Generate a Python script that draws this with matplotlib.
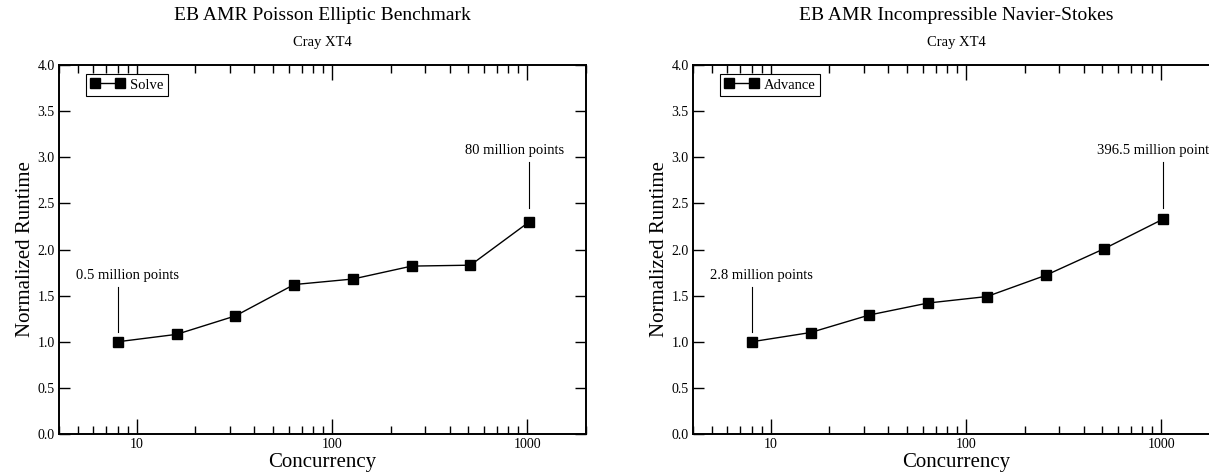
import numpy as np
import matplotlib
matplotlib.use("Agg")
import matplotlib.pyplot as plt
from matplotlib.ticker import FixedLocator, FixedFormatter, LogLocator, NullFormatter

plt.rcParams['font.family'] = ['Liberation Serif', 'DejaVu Serif']

# data
procs = [8, 16, 32, 64, 128, 256, 512, 1024]
solve = [1.00, 1.08, 1.28, 1.62, 1.68, 1.82, 1.83, 2.30]
advance = [1.00, 1.10, 1.29, 1.42, 1.49, 1.72, 2.01, 2.33]

titles = ["EB AMR Poisson Elliptic Benchmark", "EB AMR Incompressible Navier-Stokes"]
subtitle = "Cray XT4"
legend_names = ["Solve", "Advance"]
low_notes = ["0.5 million points", "2.8 million points"]
high_notes = ["80 million points", "396.5 million points"]
high_note_x = [860, 940]

W, H = 1209, 473
fig = plt.figure(figsize=(W / 100, H / 100), dpi=100)

ax_left_px = [59, 693]
series = [solve, advance]

for i in range(2):
    ax = fig.add_axes([ax_left_px[i] / W, 1 - 434 / H, 527 / W, 369 / H])
    ax.plot(procs, series[i], color='k', lw=1, marker='s', ms=6.5,
            label=legend_names[i])
    ax.set_xscale('log')
    ax.set_xlim(4, 2000)
    ax.set_ylim(0, 4)

    ax.xaxis.set_major_locator(FixedLocator([10, 100, 1000]))
    ax.xaxis.set_major_formatter(FixedFormatter(['10', '100', '1000']))
    ax.xaxis.set_minor_locator(LogLocator(base=10, subs=np.arange(2, 10)))
    ax.xaxis.set_minor_formatter(NullFormatter())
    ax.set_yticks(np.arange(0, 4.01, 0.5))
    ax.set_yticklabels([f"{v:.1f}" for v in np.arange(0, 4.01, 0.5)])

    ax.tick_params(which='both', direction='in', top=True, right=True,
                   labelsize=10, width=1, pad=3)
    ax.tick_params(axis='x', which='major', length=11)
    ax.tick_params(axis='x', which='minor', length=6)
    ax.tick_params(axis='y', which='major', length=8)
    for s in ax.spines.values():
        s.set_linewidth(1.4)

    ax.set_xlabel("Concurrency", fontsize=15, labelpad=1)
    ax.set_ylabel("Normalized Runtime", fontsize=15, labelpad=2)

    ax.text(0.5, 1.135, titles[i], transform=ax.transAxes, ha='center',
            va='center', fontsize=14)
    ax.text(0.5, 1.06, subtitle, transform=ax.transAxes, ha='center',
            va='center', fontsize=10.5)

    # annotations
    ax.plot([8, 8], [1.11, 1.59], color='k', lw=0.8)
    ax.text(9.0, 1.72, low_notes[i], ha='center', va='center', fontsize=10.5)
    ax.plot([1024, 1024], [2.45, 2.95], color='k', lw=0.8)
    ax.text(high_note_x[i], 3.07, high_notes[i], ha='center', va='center',
            fontsize=10.5)

    leg = ax.legend(loc='upper left', bbox_to_anchor=(27 / 527, 1 - 9 / 369),
                    borderaxespad=0, numpoints=2, fontsize=10.5,
                    fancybox=False, framealpha=1, edgecolor='k',
                    handlelength=2.3, handletextpad=0.4, borderpad=0.3)
    leg.get_frame().set_linewidth(0.8)

fig.savefig("out.png", dpi=100)
